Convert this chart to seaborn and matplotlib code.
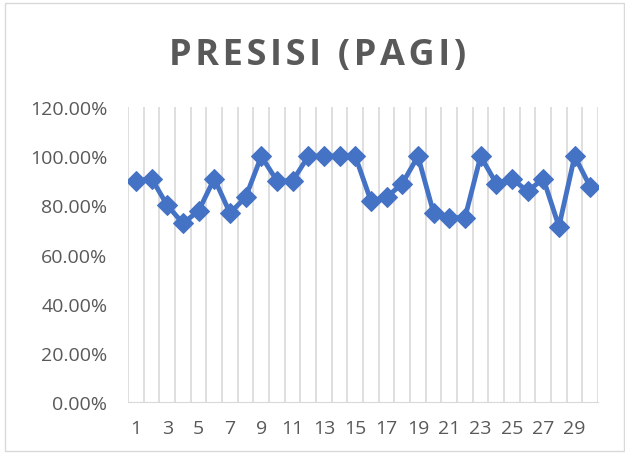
import numpy as np
import pandas as pd
import seaborn as sns
import matplotlib.pyplot as plt
from matplotlib.ticker import FuncFormatter, MultipleLocator

# Presisi per data (pagi)
days = list(range(1, 31))
presisi = [0.90, 0.909, 0.80, 0.727, 0.778, 0.909, 0.769, 0.833, 1.00, 0.90,
           0.90, 1.00, 1.00, 1.00, 1.00, 0.818, 0.833, 0.889, 1.00, 0.769,
           0.75, 0.75, 1.00, 0.889, 0.909, 0.857, 0.909, 0.714, 1.00, 0.875]
tick_labels = [str(d) for d in days[::2]]
title = "PRESISI (PAGI)"

df = pd.DataFrame({"day": days, "presisi": presisi})

sns.set_style("white")
plt.rcParams['font.family'] = ['Open Sans', 'DejaVu Sans']

fig = plt.figure(figsize=(6.25, 4.56), dpi=100)
ax = fig.add_axes([0.205, 0.116, 0.752, 0.647])

# chart border
fig.patches.append(plt.Rectangle((0.008, 0.009), 0.99, 0.982, transform=fig.transFigure,
                                 fill=False, edgecolor="#d9d9d9", linewidth=1))

sns.lineplot(data=df, x="day", y="presisi", ax=ax, color="#4472C4", linewidth=3.5,
             marker="D", markersize=10, markeredgecolor="#4472C4")

ax.set_xlim(0.5, 30.5)
ax.set_ylim(0, 1.2)
ax.yaxis.set_major_locator(MultipleLocator(0.2))
ax.yaxis.set_major_formatter(FuncFormatter(lambda v, p: f"{v*100:.2f}%"))
ax.set_xticks(days[::2])
ax.set_xticklabels(tick_labels)
ax.set_xticks(np.arange(0.5, 31, 1), minor=True)
ax.grid(True, axis="x", which="minor", color="#d9d9d9", linewidth=1.2)
ax.grid(False, axis="y")
ax.tick_params(axis="both", which="both", length=0, labelsize=14, colors="#595959")
ax.tick_params(axis="y", pad=15)
ax.tick_params(axis="x", pad=12)

for side in ["top", "right", "left"]:
    ax.spines[side].set_visible(False)
ax.spines["bottom"].set_color("#d9d9d9")

ax.set_xlabel("")
ax.set_ylabel("")
# letter-spaced title like the Excel chart
fig.text(0.508, 0.877, "\u200a".join(title), ha="center", va="center",
         fontsize=26, fontweight="bold", color="#595959")

fig.savefig("out.png", dpi=100)
